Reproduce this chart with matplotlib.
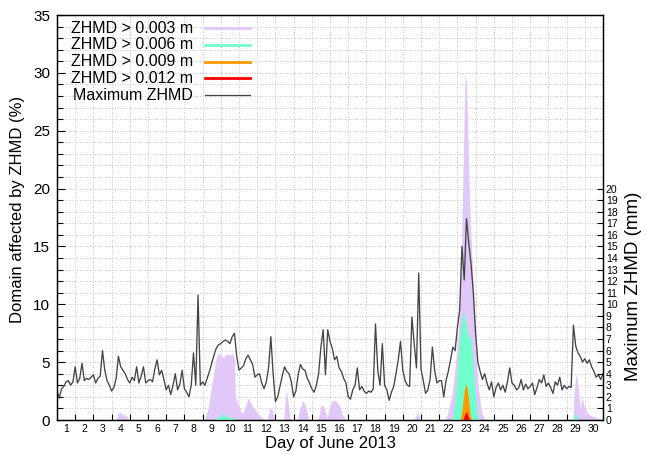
import numpy as np
import matplotlib
matplotlib.use("Agg")
import matplotlib.pyplot as plt
from matplotlib.ticker import MultipleLocator, FixedLocator, NullFormatter

plt.rcParams['font.family'] = ['Liberation Sans', 'DejaVu Sans']

# time in days since 1 June 2013 00 UTC, max ZHMD every 3 h (mm)
t_line = np.arange(241) / 8.0
max_zhmd = [
    2.5, 1.9, 2.7, 2.9, 3.3, 3.4, 3.0, 3.3,     # 1
    4.6, 3.2, 3.6, 4.9, 3.4, 3.6, 3.5, 3.7,     # 2
    3.9, 3.2, 3.6, 3.8, 6.0, 4.3, 3.4, 3.0,     # 3
    2.5, 2.8, 3.6, 5.5, 4.6, 4.3, 4.0, 3.5,     # 4
    3.2, 3.7, 3.4, 4.6, 3.2, 3.8, 4.6, 3.2,     # 5
    3.4, 3.5, 3.3, 4.4, 5.2, 3.9, 4.3, 3.5,     # 6
    2.6, 3.0, 2.2, 3.0, 4.0, 2.6, 3.1, 4.3,     # 7
    2.7, 2.4, 2.0, 3.0, 5.8, 3.0, 10.8, 3.0,    # 8
    3.3, 3.0, 3.6, 4.2, 4.9, 5.6, 6.2, 6.5,     # 9
    6.6, 6.8, 6.9, 6.8, 6.6, 7.2, 7.5, 5.5,     # 10
    4.3, 4.5, 4.7, 5.3, 5.6, 5.2, 4.8, 3.7,     # 11
    3.9, 4.0, 3.2, 2.7, 3.3, 4.5, 7.2, 4.0,     # 12
    1.6, 2.0, 2.9, 3.8, 4.6, 4.2, 4.0, 3.3,     # 13
    2.0, 2.5, 3.9, 4.8, 4.4, 4.3, 3.6, 3.2,     # 14
    2.7, 2.4, 3.0, 4.0, 6.3, 7.8, 3.9, 7.8,     # 15
    6.8, 6.2, 5.2, 5.5, 4.5, 4.2, 3.6, 3.2,     # 16
    2.0, 1.8, 2.6, 3.0, 4.5, 2.6, 2.9, 2.5,     # 17
    2.3, 2.5, 2.4, 2.7, 8.3, 4.3, 3.0, 6.6,     # 18
    3.0, 2.6, 1.7, 2.4, 2.9, 4.0, 5.2, 6.8,     # 19
    4.3, 3.4, 3.0, 2.9, 8.9, 6.6, 4.5, 12.7,    # 20
    4.4, 3.4, 2.3, 2.6, 3.5, 6.3, 4.3, 3.2,     # 21
    3.4, 3.4, 2.0, 3.4, 4.2, 5.2, 6.3, 6.0,     # 22
    8.0, 9.5, 15.0, 12.1, 17.4, 15.3, 13.5, 11.0,  # 23
    7.5, 5.0, 4.2, 3.5, 4.0, 3.2, 2.6, 3.3,     # 24
    2.0, 2.8, 3.2, 2.6, 3.0, 2.4, 3.3, 4.5,     # 25
    3.2, 3.0, 2.6, 2.8, 3.5, 2.6, 3.1, 2.7,     # 26
    2.9, 3.2, 2.2, 2.8, 3.5, 3.2, 3.9, 2.9,     # 27
    3.2, 2.8, 2.3, 3.3, 3.0, 3.7, 2.6, 3.0,     # 28
    2.7, 2.9, 2.8, 8.2, 6.4, 5.8, 5.5, 5.0,     # 29
    5.3, 4.9, 5.2, 4.6, 4.2, 3.7, 3.9, 3.5,     # 30
    4.0,
]

# % of domain with ZHMD above thresholds
t_p3 = [0, 1.5, 1.6, 1.8, 2.3, 2.4, 2.6, 3.25, 3.35, 3.45, 3.6, 3.8, 3.95,
        7.5, 7.6, 7.7, 8.1, 8.3, 8.45, 8.6, 8.75, 8.85, 9.0, 9.15, 9.3, 9.5,
        9.65, 9.75, 9.8, 9.9, 10.05, 10.2, 10.35, 10.5, 10.7, 10.9, 11.1,
        11.3, 11.55, 11.7, 11.85, 11.95, 12.45, 12.6, 12.7, 12.8, 12.9, 13.2,
        13.35, 13.5, 13.65, 13.8, 13.9, 14.35, 14.5, 14.6, 14.75, 14.85,
        14.95, 15.1, 15.3, 15.5, 15.7, 15.9, 17.8, 17.85, 17.9, 19.6, 19.75,
        19.85, 19.95, 21.3, 21.45, 21.6, 21.7, 21.8, 21.9, 22.0, 22.1, 22.2,
        22.3, 22.38, 22.43, 22.5, 22.57, 22.65, 22.73, 22.85, 22.95, 23.05,
        23.15, 23.25, 23.35, 23.5, 23.7, 28.35, 28.42, 28.5, 28.55, 28.65,
        28.75, 28.85, 28.95, 29.1, 29.3, 29.5, 29.8, 30]
p3 = [0, 0, 0.1, 0, 0, 0.1, 0, 0, 0.5, 0.7, 0.5, 0.4, 0,
      0, 0.15, 0, 0, 1.0, 2.5, 4.0, 5.4, 5.8, 5.6, 5.4, 5.7, 5.6,
      5.8, 5.3, 2.0, 1.6, 0.9, 0.6, 1.2, 1.9, 1.3, 0.8, 0.5,
      0.1, 0, 1.1, 0.8, 0, 0, 2.6, 1.5, 0.2, 0, 0,
      1.0, 1.7, 1.2, 0.3, 0, 0, 1.2, 1.3, 0.7, 0.2,
      1.0, 1.6, 1.7, 1.3, 0.4, 0, 0, 0.1, 0, 0, 0.5,
      0.6, 0, 0, 0.5, 1.5, 2.2, 3.5, 5.0, 6.5, 9.0, 13.0,
      21.0, 27.0, 30.1, 29.0, 25.0, 20.0, 16.5, 12.5, 9.0, 5.0,
      3.0, 1.5, 0.6, 0.1, 0, 0, 2.5, 3.7, 3.9, 2.6,
      1.0, 2.0, 1.3, 0.7, 0.4, 0.3, 0.1, 0]

t_p6 = [0, 8.6, 8.8, 9.0, 9.15, 9.3, 9.5, 9.7, 9.8, 21.65, 21.75, 21.85,
        21.95, 22.05, 22.15, 22.25, 22.35, 22.45, 22.55, 22.65, 22.73, 22.8,
        22.9, 23.0, 23.08, 23.15, 28.38, 28.45, 28.55, 28.6, 30]
p6 = [0, 0, 0.2, 0.35, 0.55, 0.3, 0.2, 0.25, 0, 0, 0.3, 1.5,
      3.2, 5.5, 7.5, 8.8, 9.4, 8.5, 7.6, 7.0, 7.2, 6.0,
      4.0, 2.0, 0.5, 0, 0, 0.6, 0.4, 0, 0]

t_p9 = [0, 22.15, 22.25, 22.33, 22.4, 22.47, 22.53, 22.6, 22.66, 22.72, 22.78, 30]
p9 = [0, 0, 0.8, 2.0, 2.8, 3.1, 2.8, 2.0, 1.1, 0.3, 0, 0]

t_p12 = [0, 22.3, 22.36, 22.44, 22.5, 22.56, 22.62, 22.68, 30]
p12 = [0, 0, 0.3, 0.6, 0.75, 0.4, 0.2, 0, 0]

labels = ['ZHMD > 0.003 m', 'ZHMD > 0.006 m', 'ZHMD > 0.009 m',
          'ZHMD > 0.012 m', 'Maximum ZHMD']
colors = ['#e2c8f8', '#70ffcc', '#ff9900', '#ff0000', '#444444']
days = list(range(1, 31))

fig = plt.figure(figsize=(6.47, 4.55), dpi=100)
W, H = 647.0, 455.0
ax = fig.add_axes([57 / W, 1 - 420 / H, 546 / W, 405 / H])

ax.fill_between(t_p3, p3, color=colors[0], lw=0, zorder=2)
ax.fill_between(t_p6, p6, color=colors[1], lw=0, zorder=3)
ax.fill_between(t_p9, p9, color=colors[2], lw=0, zorder=4)
ax.fill_between(t_p12, p12, color=colors[3], lw=0, zorder=5)
ax.plot(t_line, max_zhmd, color=colors[4], lw=0.95, zorder=6)

ax.set_xlim(0, 30)
ax.set_ylim(0, 35)

# x: ticks at day boundaries, labels at day centres
ax.xaxis.set_major_locator(FixedLocator(range(1, 30)))
ax.xaxis.set_major_formatter(NullFormatter())
ax.xaxis.set_minor_locator(FixedLocator([d - 0.5 for d in days]))
ax.set_xticklabels([str(d) for d in days], minor=True)
ax.tick_params(axis='x', which='major', direction='in', length=4, width=0.8, top=False)
ax.tick_params(axis='x', which='minor', length=0, pad=3, labelsize=7.5, top=False)

ax.yaxis.set_major_locator(MultipleLocator(5))
ax.yaxis.set_minor_locator(MultipleLocator(1))
ax.tick_params(axis='y', which='major', direction='in', length=6, width=0.8,
               labelsize=11, pad=5, right=False)
ax.tick_params(axis='y', which='minor', direction='in', length=4, width=0.8, right=False)

ax.grid(True, which='major', axis='x', color='#b4b4b4', lw=0.6, ls=(0, (1, 2)), zorder=1)
ax.grid(True, which='both', axis='y', color='#b4b4b4', lw=0.6, ls=(0, (1, 2)), zorder=1)
ax.set_axisbelow(True)

ax2 = ax.twinx()
ax2.set_ylim(0, 35)
ax2.set_yticks(range(0, 21))
ax2.tick_params(axis='y', direction='in', length=4, width=0.8, labelsize=7.5, pad=2)

for a in (ax, ax2):
    for s in a.spines.values():
        s.set_linewidth(0.9)

ax.set_ylabel('Domain affected by ZHMD (%)', fontsize=12)
ax.yaxis.set_label_coords(-0.059, 0.52)
ax2.set_ylabel('Maximum ZHMD (mm)', fontsize=13.5)
ax2.yaxis.set_label_coords(1.040, 0.33)
ax.set_xlabel('Day of June 2013', fontsize=12, labelpad=1)

# key in the gnuplot style: text right-aligned, sample on the right
rows = [28, 44.8, 61.6, 78.4, 95.2]
for lab, col, py in zip(labels, colors, rows):
    y = (420 - py) / 405.0
    ax.text((193 - 57) / 546.0, y, lab, transform=ax.transAxes, ha='right',
            va='center', fontsize=11.5, zorder=10)
    ax.plot([(205 - 57) / 546.0, (250 - 57) / 546.0], [y, y], transform=ax.transAxes,
            color=col, lw=0.9 if col == colors[4] else 2.0, zorder=10, clip_on=False)

fig.savefig('out.png', dpi=100)
